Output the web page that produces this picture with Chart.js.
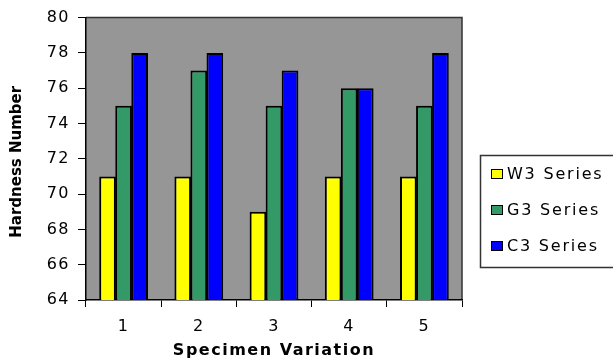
<!DOCTYPE html>
<html>
<head>
<meta charset="utf-8">
<script src="https://cdn.jsdelivr.net/npm/chart.js@4.4.0/dist/chart.umd.min.js"></script>
<style>
  body { margin: 0; background: #fff; }
  #wrap { width: 613px; height: 362px; }
</style>
</head>
<body>
<div id="wrap"><canvas id="hardnessChart" width="613" height="362"></canvas></div>
<script>
const categories = ['1', '2', '3', '4', '5'];
const w3Series = [71, 71, 69, 71, 71];
const g3Series = [75, 77, 75, 76, 75];
const c3Series = [78, 78, 77, 76, 78];
const seriesNames = ['W3 Series', 'G3 Series', 'C3 Series'];
const seriesColors = ['#ffff00', '#339966', '#0000ff'];
const yMin = 64;
const yMax = 80;
const yStep = 2;

const FONT = 'DejaVu Sans';

// gray plot background, frame, stretched-looking text
const plotFrame = {
    id: 'plotFrame',
    beforeDraw(chart) {
        const { ctx, chartArea: a } = chart;
        ctx.letterSpacing = '1.5px';
        ctx.save();
        ctx.fillStyle = '#969696';
        ctx.fillRect(a.left, a.top, a.right - a.left, a.bottom - a.top);
        ctx.strokeStyle = '#333';
        ctx.lineWidth = 1.5;
        ctx.beginPath();
        ctx.moveTo(a.left, a.top);
        ctx.lineTo(a.right, a.top);
        ctx.lineTo(a.right, a.bottom);
        ctx.stroke();
        ctx.restore();
    },
    afterDraw(chart) {
        const { ctx, chartArea: a } = chart;
        ctx.save();
        // y axis title
        ctx.letterSpacing = '0px';
        ctx.fillStyle = '#000';
        ctx.font = 'bold 15px "' + FONT + '"';
        ctx.textAlign = 'center';
        ctx.textBaseline = 'middle';
        ctx.translate(17, (a.top + a.bottom) / 2 + 3);
        ctx.rotate(-Math.PI / 2);
        ctx.fillText('Hardness Number', 0, 0);
        ctx.restore();

        // legend box
        ctx.save();
        ctx.letterSpacing = '1.8px';
        ctx.strokeStyle = '#333';
        ctx.lineWidth = 1.5;
        ctx.strokeRect(480.5, 155.5, 140, 112);
        ctx.font = '16px "' + FONT + '"';
        ctx.textBaseline = 'middle';
        ctx.textAlign = 'left';
        chart.data.datasets.forEach((ds, i) => {
            const y = 174 + i * 36;
            ctx.fillStyle = ds.backgroundColor;
            ctx.fillRect(491, y - 5, 12, 10);
            ctx.strokeStyle = '#000';
            ctx.lineWidth = 1;
            ctx.strokeRect(491.5, y - 4.5, 11, 9);
            ctx.fillStyle = '#000';
            ctx.fillText(ds.label, 507, y + 1);
        });
        ctx.restore();
    }
};

Chart.defaults.color = '#000';
Chart.defaults.font.family = FONT;

const datasets = [w3Series, g3Series, c3Series].map((values, i) => ({
    label: seriesNames[i],
    data: values,
    backgroundColor: seriesColors[i],
    borderColor: '#000',
    borderWidth: 2,
    borderSkipped: 'bottom',
    categoryPercentage: 0.64,
    barPercentage: 1.04
}));

new Chart(document.getElementById('hardnessChart').getContext('2d'), {
    type: 'bar',
    data: { labels: categories, datasets: datasets },
    options: {
        responsive: false,
        animation: false,
        layout: { padding: { left: 0, top: 17, right: 151, bottom: 0 } },
        scales: {
            x: {
                afterFit: s => { s.height = 62; },
                grid: { drawOnChartArea: false, tickLength: 7, color: '#000', offset: true },
                border: { color: '#000', width: 1.5 },
                ticks: { font: { size: 16 }, padding: 10 },
                title: {
                    display: true,
                    text: 'Specimen Variation',
                    font: { size: 16, weight: 'bold' },
                    padding: { top: 0, bottom: 2 }
                }
            },
            y: {
                min: yMin,
                max: yMax,
                afterFit: s => { s.width = 86; },
                grid: { drawOnChartArea: false, tickLength: 8, color: '#000' },
                border: { color: '#000', width: 1.5 },
                ticks: { stepSize: yStep, font: { size: 16 }, padding: 8 }
            }
        },
        plugins: {
            legend: { display: false },
            tooltip: { enabled: false }
        }
    },
    plugins: [plotFrame]
});
</script>
</body>
</html>
